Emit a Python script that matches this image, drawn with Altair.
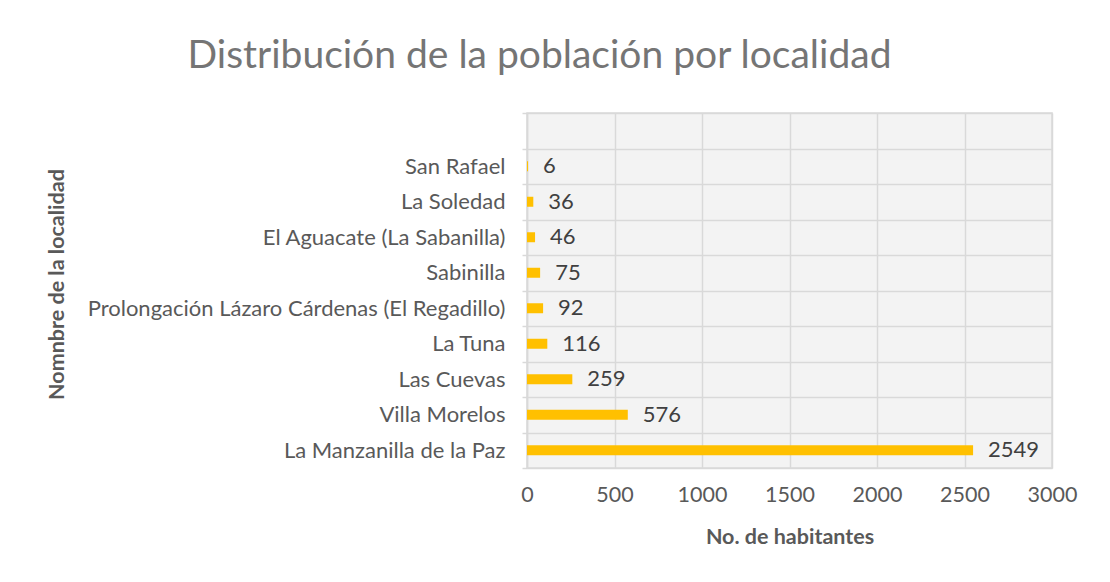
import altair as alt
import pandas as pd

localidades = [
    "San Rafael",
    "La Soledad",
    "El Aguacate (La Sabanilla)",
    "Sabinilla",
    "Prolongación Lázaro Cárdenas (El Regadillo)",
    "La Tuna",
    "Las Cuevas",
    "Villa Morelos",
    "La Manzanilla de la Paz",
]
habitantes = [6, 36, 46, 75, 92, 116, 259, 576, 2549]
x_ticks = [0, 500, 1000, 1500, 2000, 2500, 3000]

df = pd.DataFrame({"localidad": localidades, "habitantes": habitantes})
domain = [" "] + localidades

FONT = "Lato"
GRID = "#d9d9d9"

y_enc = alt.Y(
    "localidad:N",
    scale=alt.Scale(domain=domain, paddingInner=0, paddingOuter=0),
    sort=domain,
    axis=alt.Axis(
        title="Nomnbre de la localidad",
        titleFont=FONT,
        titleFontSize=21.5,
        titleFontWeight="bold",
        titleColor="#595959",
        titleX=-470,
        titleY=171,
        titleAngle=-90,
        titleAlign="center",
        titleBaseline="middle",
        labelFont=FONT,
        labelFontSize=22,
        labelColor="#595959",
        labelPadding=17,
        labelLimit=0,
        tickSize=5,
        tickColor=GRID,
        tickWidth=1.5,
        tickBand="extent",
        bandPosition=0,
        grid=True,
        gridColor=GRID,
        gridWidth=1.5,
        domain=True,
        domainColor=GRID,
        domainWidth=1.5,
    ),
)

x_enc = alt.X(
    "habitantes:Q",
    scale=alt.Scale(domain=[0, 3000], nice=False),
    axis=alt.Axis(
        values=x_ticks,
        format="d",
        title="No. de habitantes",
        titleFont=FONT,
        titleFontSize=21.5,
        titleFontWeight="bold",
        titleColor="#595959",
        titleY=69,
        titleBaseline="middle",
        labelFont=FONT,
        labelFontSize=21.5,
        labelColor="#595959",
        labelPadding=16,
        labelFlush=False,
        labelOverlap=False,
        ticks=False,
        domain=False,
        grid=True,
        gridColor=GRID,
        gridWidth=1.5,
    ),
)

bars = alt.Chart(df).mark_bar(color="#FFC000", size=10).encode(x=x_enc, y=y_enc)

labels = alt.Chart(df).mark_text(
    align="left", baseline="middle", dx=15, font=FONT, fontSize=22, color="#404040"
).encode(
    x=alt.X("habitantes:Q", scale=alt.Scale(domain=[0, 3000], nice=False)),
    y=alt.Y("localidad:N", scale=alt.Scale(domain=domain), sort=domain),
    text="habitantes:Q",
)

chart = (
    alt.layer(bars, labels)
    .properties(
        width=525,
        height=355,
        padding={"left": 519, "top": 105, "right": 50, "bottom": 106},
        autosize=alt.AutoSizeParams(type="none"),
        title=alt.TitleParams(
            "Distribución de la población por localidad",
            font=FONT,
            fontSize=39,
            fontWeight="normal",
            color="#757575",
            anchor="middle",
            dx=-250,
            offset=26,
        ),
        background="white",
    )
    .configure_view(fill="#f3f3f3", stroke=GRID, strokeWidth=1.5)
)

chart.save("out.html", embed_options={"renderer": "svg", "actions": False})
